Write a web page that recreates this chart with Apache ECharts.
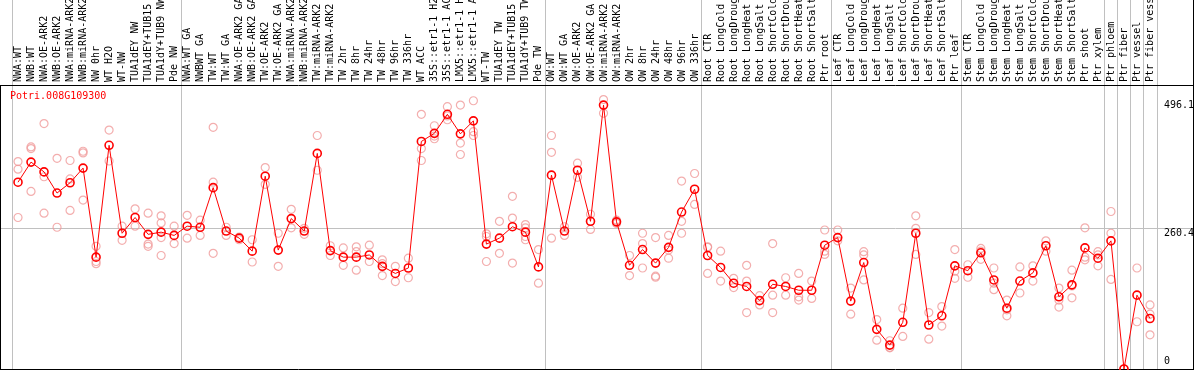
<!DOCTYPE html>
<html><head><meta charset="utf-8">
<script src="https://cdn.jsdelivr.net/npm/echarts@6/dist/echarts.min.js"></script>
<style>html,body{margin:0;padding:0;background:#fff;}#c{width:1194px;height:370px;}</style>
</head><body><div id="c"></div>
<script>
const geneId = 'Potri.008G109300';
const categories = [
 'NWA:WT','NWB:WT','NWA:OE-ARK2','NWB:OE-ARK2','NWA:miRNA-ARK2','NWB:miRNA-ARK2','NW 0hr','WT H2O','WT-NW','TUA1dEY NW','TUA1dEY+TUB15','TUA1dY+TUB9 NW','Pde NW',
 'NWA:WT GA','NWBWT GA','TW:WT','TW:WT GA','NWA:OE-ARK2 GA','NWB:OE-ARK2 GA','TW:OE-ARK2','TW:OE-ARK2 GA','NWA:miRNA-ARK2','NWB:miRNA-ARK2','TW:miRNA-ARK2','TW:miRNA-ARK2','TW 2hr','TW 8hr','TW 24hr','TW 48hr','TW 96hr','TW 336hr','WT ACC','35S::etr1-1 H2O','35S::etr1-1 ACC','LMX5::etr1-1 H2O','LMX5::etr1-1 ACC','WT-TW','TUA1dEY TW','TUA1dEY+TUB15','TUA1dY+TUB9 TW','Pde TW',
 'OW:WT','OW:WT GA','OW:OE-ARK2','OW:OE-ARK2 GA','OW:miRNA-ARK2','OW:miRNA-ARK2','OW 2hr','OW 8hr','OW 24hr','OW 48hr','OW 96hr','OW 336hr',
 'Root CTR','Root LongCold','Root LongDrought','Root LongHeat','Root LongSalt','Root ShortCold','Root ShortDrought','Root ShortHeat','Root ShortSalt','Ptr root',
 'Leaf CTR','Leaf LongCold','Leaf LongDrought','Leaf LongHeat','Leaf LongSalt','Leaf ShortCold','Leaf ShortDrought','Leaf ShortHeat','Leaf ShortSalt','Ptr leaf',
 'Stem CTR','Stem LongCold','Stem LongDrought','Stem LongHeat','Stem LongSalt','Stem ShortCold','Stem ShortDrought','Stem ShortHeat','Stem ShortSalt','Ptr shoot','Ptr xylem',
 'Ptr phloem','Ptr fiber','Ptr vessel','Ptr fiber vessel'
];
const groupSizes = [13, 28, 12, 10, 10, 11, 1, 1, 1, 1];
const meanValues = [
 344,381,363,324,343,370,206,412,250,279,248,252,246,
 263,261,334,254,241,217,355,219,277,254,397,218,206,206,210,189,176,186,419,434,469,433,457,230,241,262,252,188,
 357,254,366,272,486,271,191,220,195,224,289,331,
 209,187,158,152,126,156,152,145,145,228,
 242,125,196,73,44,86,250,81,98,190,
 181,214,164,112,162,177,227,133,155,223,204,
 236,0,136,93
];
const rep1 = [
 382,409,452,388,384,401,226,440,263,295,287,282,263,
 283,274,445,261,243,238,371,250,294,259,430,227,223,225,228,201,189,204,469,448,483,486,494,249,272,318,266,220,
 430,262,379,285,496.1,274,209,250,242,246,346,360,
 225,217,167,191,135,231,168,176,162,256,
 256,149,216,91,52,112,282,104,115,220,
 192,222,186,127,188,190,236,149,182,260,216,
 290,0,186,118
];
const rep2 = [
 368,406,354,261,350,398,198,383,237,263,230,269,231,
 241,246,344,246,238,197,340,189,260,248,366,209,191,216,198,172,161,168,406,429,459,416,437,244,213,278,260,158,
 399,246,353,257,471,268,172,231,171,219,272,303,
 224,162,150,162,118,136,136,133,130,217,
 236,101,210,53,39,60,259,55,79,180,
 169,217,158,109,140,162,217,127,153,206,190,
 250,null,87,101
];
const rep3 = [
 279,327,287,null,292,311,194,null,null,null,226,242,null,
 null,null,213,null,null,null,null,null,null,null,null,null,null,182,null,194,null,null,384,424,466,395,430,198,null,195,238,null,
 241,null,null,272,null,null,null,186,169,204,250,null,
 176,null,null,104,null,104,null,127,null,211,
 null,null,164,null,40,null,211,null,null,167,
 null,202,146,98,null,null,null,114,131,201,210,
 165,null,null,63
];
const rep4 = [
 null,null,null,null,null,null,null,null,null,null,null,209,null,
 null,null,null,null,null,null,null,null,null,null,null,null,null,null,null,null,null,null,null,null,null,null,null,null,null,null,244,null,
 null,null,null,null,null,null,null,null,null,null,null,null,
 null,null,null,null,null,null,null,null,null,null,
 null,null,null,null,null,null,null,null,null,null,
 null,null,null,null,null,null,null,null,null,null,null,
 null,null,null,null
];
const tickValues = [496.1, 260.4, 0];
const yMax = 523;

const FONT = 'DejaVu Sans Mono';
const chart = echarts.init(document.getElementById('c'), null, {renderer: 'canvas'});
const repData = [];
[rep1, rep2, rep3, rep4].forEach(arr => arr.forEach((v, i) => { if (v !== null) repData.push([i, v]); }));

chart.setOption({
  animation: false,
  grid: {left: 11.5, right: 37.5, top: 85, bottom: 1},
  xAxis: {
    type: 'category', position: 'top', data: categories, boundaryGap: true,
    axisLine: {show: false}, axisTick: {show: false}, splitLine: {show: false},
    axisLabel: {show: false}
  },
  yAxis: {type: 'value', min: 0, max: yMax, show: false, splitLine: {show: false}},
  series: [
    {type: 'scatter', data: repData, symbol: 'circle', symbolSize: 8, silent: true, z: 3,
     itemStyle: {color: 'rgba(0,0,0,0)', borderColor: '#f09a9a', borderWidth: 1.2}},
    {type: 'line', data: meanValues.map((v, i) => [i, v]), symbol: 'circle', symbolSize: 8, showSymbol: true, z: 4, silent: true,
     itemStyle: {color: 'rgba(0,0,0,0)', borderColor: '#ff0000', borderWidth: 1.6},
     lineStyle: {color: '#ff0000', width: 1}}
  ]
});

const xPx = i => chart.convertToPixel({xAxisIndex: 0}, i);
const yPx = v => chart.convertToPixel({yAxisIndex: 0}, v);
const bw = xPx(1) - xPx(0);
const x0 = xPx(0) - bw / 2;
const bounds = [0];
groupSizes.reduce((a, s) => { bounds.push(a + s); return a + s; }, 0);
const g = [];
bounds.forEach(b => {
  const x = Math.round(x0 + b * bw) + 0.5;
  g.push({type: 'line', shape: {x1: x, y1: 0, x2: x, y2: 370}, style: {stroke: '#c0c0c0', lineWidth: 1}, z: 1});
});
const gy = Math.round(yPx(260.4)) + 0.5;
g.push({type: 'line', shape: {x1: 0, y1: gy, x2: 1194, y2: gy}, style: {stroke: '#c0c0c0', lineWidth: 1}, z: 1});
// frame
g.push({type: 'line', shape: {x1: 0, y1: 85.5, x2: 1194, y2: 85.5}, style: {stroke: '#000', lineWidth: 1}, z: 2});
g.push({type: 'line', shape: {x1: 0, y1: 369.5, x2: 1194, y2: 369.5}, style: {stroke: '#000', lineWidth: 1}, z: 2});
g.push({type: 'line', shape: {x1: 0.5, y1: 85, x2: 0.5, y2: 370}, style: {stroke: '#000', lineWidth: 1}, z: 2});
g.push({type: 'line', shape: {x1: 1193.5, y1: 0, x2: 1193.5, y2: 370}, style: {stroke: '#000', lineWidth: 1}, z: 2});
// category labels (rotated, reading upward from the header line)
categories.forEach((name, i) => {
  g.push({type: 'text', x: Math.round(xPx(i)) + 0.5, y: 82, rotation: Math.PI / 2,
    style: {text: name, fill: '#000', fontFamily: FONT, fontSize: 10, align: 'left', verticalAlign: 'middle'}, z: 5});
});
// title
g.push({type: 'text', x: 10, y: 91, style: {text: geneId, fill: '#ff0000', fontFamily: FONT, fontSize: 10, verticalAlign: 'top'}, z: 5});
// tick labels
tickValues.forEach(v => {
  const y = Math.min(Math.round(yPx(v)), 356);
  g.push({type: 'text', x: 1164, y: y, style: {text: String(v), fill: '#000', fontFamily: FONT, fontSize: 10, verticalAlign: 'top'}, z: 5});
});
chart.setOption({graphic: g});
</script>
</body></html>
